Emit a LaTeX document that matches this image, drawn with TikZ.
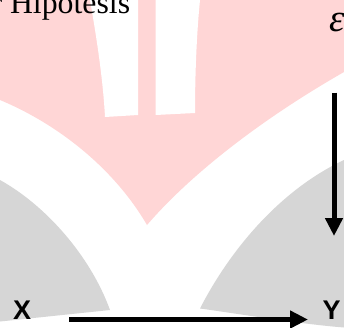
\documentclass[tikz,border=0pt]{standalone}
\usepackage{fontspec}
\setmainfont{Liberation Serif}
\newfontfamily\arialfont{Liberation Sans}
\usetikzlibrary{arrows.meta}
\definecolor{logopink}{RGB}{255,214,214}
\definecolor{logogray}{RGB}{214,214,214}
\begin{document}
\begin{tikzpicture}[x=1pt,y=-1pt,
  arr/.style={line width=5pt, -{Triangle[length=18pt,width=17pt]}},
  lbl/.style={inner sep=0pt, outer sep=0pt},
  serlbl/.style={lbl, anchor=base west, font=\fontsize{31.8}{36}\selectfont},
  epslbl/.style={lbl, anchor=base west, font=\fontsize{39}{44}\selectfont\itshape},
  varlbl/.style={lbl, anchor=base west, font=\arialfont\bfseries\fontsize{27}{31}\selectfont}]
\useasboundingbox (0,0) rectangle (344,327);
\fill[white] (0,0) rectangle (344,327);
% pink logo body
\fill[logopink] (-5,-5) -- (-5,100) -- (0,100) .. controls (60,125) and (115,170) .. (147,225)
  .. controls (190,175) and (260,120) .. (344,72) -- (350,69) -- (350,-5) -- cycle;
% white stripes at the top
\fill[white] (90,-5) -- (90,0) .. controls (97,40) and (103,80) .. (105,117) -- (138,115) -- (138,-5) -- cycle;
\fill[white] (155.5,-5) -- (155.5,115) -- (195,113) .. controls (195,70) and (197,30) .. (200,0) -- (200,-5) -- cycle;
% gray shapes
\fill[logogray] (-5,178) -- (0,180) .. controls (45,205) and (90,255) .. (110,310) -- (0,321.5) -- (-5,322) -- cycle;
\fill[logogray] (200,308.5) .. controls (230,250) and (280,190) .. (344,160) -- (350,158) -- (350,330) -- (344,327.5)
  .. controls (300,324) and (240,314) .. (200,308.5) -- cycle;
% texts
\node[serlbl] (hip) at (-8.5,13.3) {r Hipotesis};
\node[epslbl] (eps) at (329,31.5) {ε};
\node[varlbl] (X) at (13,319.5) {X};
\node[varlbl] (Y) at (322.5,319.5) {Y};
% arrows
\draw[arr] ([shift={(38,0)}]X.base east) -- ([shift={(-14.5,0)}]Y.base west);
\draw[arr] ([shift={(5,61.2)}]eps.base west) -- ([shift={(11.5,-83.5)}]Y.base west);
\end{tikzpicture}
\end{document}
